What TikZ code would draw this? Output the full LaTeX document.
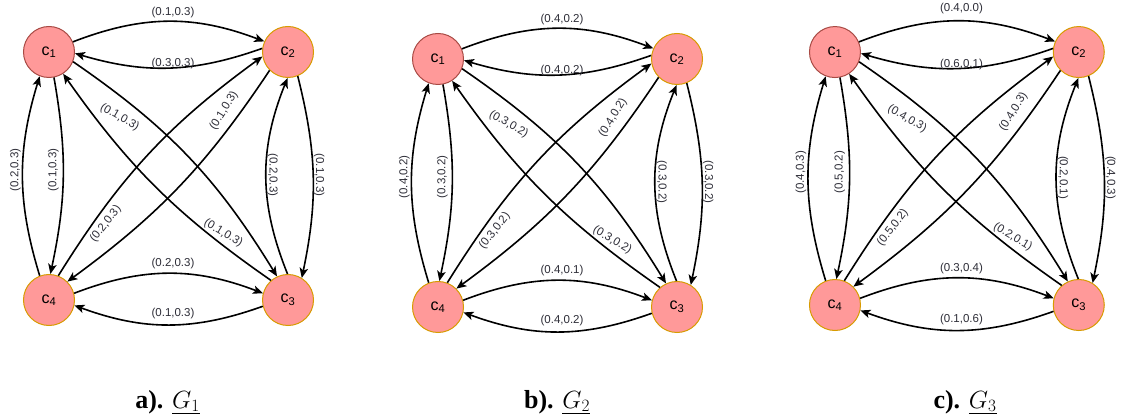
\documentclass[tikz,border=0pt]{standalone}
\usepackage{fontspec}
\setmainfont{Liberation Serif}
\setsansfont{Liberation Sans}
\usepackage{tikz}
\usetikzlibrary{arrows.meta}
\definecolor{nodefill}{HTML}{FF9999}
\definecolor{redline}{HTML}{A84A44}
\definecolor{goldline}{HTML}{D79B00}
\definecolor{weighttext}{HTML}{2E2E38}

% the twelve directed edges between c1, c2, c3 and c4
\newcommand{\graphedges}{%
  % top pair
  \draw[arrowedge] (c1.23)  to[bend left=21] (c2.156);
  \draw[arrowedge] (c2.172) to[bend left=18] (c1.357);
  % left pair
  \draw[arrowedge] (c4.111) to[bend left=17] (c1.249);
  \draw[arrowedge] (c1.281) to[bend left=11] (c4.87);
  % right pair
  \draw[arrowedge] (c2.292) to[bend left=13] (c3.58);
  \draw[arrowedge] (c3.91)  to[bend left=22] (c2.269);
  % bottom pair
  \draw[arrowedge] (c4.15)  to[bend left=21] (c3.165);
  \draw[arrowedge] (c3.194) to[bend left=20] (c4.348);
  % the crossing diagonals
  \draw[arrowedge] (c1.338) to[bend left=12] (c3.115);
  \draw[arrowedge] (c3.131) to[bend left=10] (c1.303);
  \draw[arrowedge] (c4.69)  to[bend left=11] (c2.190);
  \draw[arrowedge] (c2.225) to[bend left=10] (c4.45);
}

\begin{document}
\begin{tikzpicture}[
x=1pt, y=1pt,
    vertex/.style={
        circle,
        draw=goldline,
        fill=nodefill,
        line width=1pt,
        minimum size=51pt,
        inner sep=0pt,
        font=\sffamily\fontsize{16}{18}\selectfont
    },
    firstvertex/.style={vertex, draw=redline},
    arrowedge/.style={-{Stealth[length=10pt,width=8.5pt,inset=2.5pt]}, line width=1.6pt},
    weight/.style={font=\sffamily\fontsize{11.5}{13}\selectfont, text=weighttext, inner sep=0pt},
    subcap/.style={font=\fontsize{26}{30}\selectfont, anchor=base}
]
\useasboundingbox[fill=white] (0,0) rectangle (1121,-419);

% G_1
\begin{scope}[name prefix=a-]
\node[firstvertex] (c1) at (49,-52)  {c\textsubscript{1}};
\node[vertex]      (c2) at (288,-52) {c\textsubscript{2}};
\node[vertex]      (c3) at (288,-300) {c\textsubscript{3}};
\node[vertex]      (c4) at (49,-300) {c\textsubscript{4}};
\graphedges
\node[weight] (w12) at (173,-12.5) {(0.1,0.3)};
\node[weight] (w21) at (173,-64) {(0.3,0.3)};
\node[weight, rotate=90] (w41) at (15.5,-170) {(0.2,0.3)};
\node[weight, rotate=90] (w14) at (53.5,-170) {(0.1,0.3)};
\node[weight, rotate=-90] (w32) at (272.5,-175) {(0.2,0.3)};
\node[weight, rotate=-90] (w23) at (319,-175) {(0.1,0.3)};
\node[weight] (w43) at (173,-264) {(0.2,0.3)};
\node[weight] (w34) at (173,-314) {(0.1,0.3)};
\node[weight, rotate=-30] (w13) at (119.7,-117.3) {(0.1,0.3)};
\node[weight, rotate=58]  (w42) at (224,-110.7) {(0.1,0.3)};
\node[weight, rotate=52]  (w24) at (105.7,-224) {(0.2,0.3)};
\node[weight, rotate=-31] (w31) at (223.3,-233.3) {(0.1,0.3)};
\end{scope}

% G_2
\begin{scope}[shift={(389,-7)}, name prefix=b-]
\node[firstvertex] (c1) at (49,-52)  {c\textsubscript{1}};
\node[vertex]      (c2) at (288,-52) {c\textsubscript{2}};
\node[vertex]      (c3) at (288,-300) {c\textsubscript{3}};
\node[vertex]      (c4) at (49,-300) {c\textsubscript{4}};
\graphedges
\node[weight] (w12) at (173,-12.5) {(0.4,0.2)};
\node[weight] (w21) at (173,-64) {(0.4,0.2)};
\node[weight, rotate=90] (w41) at (15.5,-170) {(0.4,0.2)};
\node[weight, rotate=90] (w14) at (53.5,-170) {(0.3,0.2)};
\node[weight, rotate=-90] (w32) at (272.5,-175) {(0.3,0.2)};
\node[weight, rotate=-90] (w23) at (319,-175) {(0.3,0.2)};
\node[weight] (w43) at (173,-264) {(0.4,0.1)};
\node[weight] (w34) at (173,-314) {(0.4,0.2)};
\node[weight, rotate=-30] (w13) at (119.7,-117.3) {(0.3,0.2)};
\node[weight, rotate=58]  (w42) at (224,-110.7) {(0.4,0.2)};
\node[weight, rotate=52]  (w24) at (105.7,-224) {(0.3,0.2)};
\node[weight, rotate=-31] (w31) at (223.3,-233.3) {(0.3,0.2)};
\end{scope}

% G_3
\begin{scope}[shift={(785,1)}, scale=1.02, name prefix=c-]
\node[firstvertex] (c1) at (49,-52)  {c\textsubscript{1}};
\node[vertex]      (c2) at (288,-52) {c\textsubscript{2}};
\node[vertex]      (c3) at (288,-300) {c\textsubscript{3}};
\node[vertex]      (c4) at (49,-300) {c\textsubscript{4}};
\graphedges
\node[weight] (w12) at (173,-9) {(0.4,0.0)};
\node[weight] (w21) at (173,-64) {(0.6,0.1)};
\node[weight, rotate=90] (w41) at (15.5,-170) {(0.4,0.3)};
\node[weight, rotate=90] (w14) at (53.5,-170) {(0.5,0.2)};
\node[weight, rotate=-90] (w32) at (272.5,-175) {(0.2,0.1)};
\node[weight, rotate=-90] (w23) at (319,-175) {(0.4,0.3)};
\node[weight] (w43) at (173,-264) {(0.3,0.4)};
\node[weight] (w34) at (173,-314) {(0.1,0.6)};
\node[weight, rotate=-30] (w13) at (119.7,-117.3) {(0.4,0.3)};
\node[weight, rotate=58]  (w42) at (224,-110.7) {(0.4,0.3)};
\node[weight, rotate=52]  (w24) at (105.7,-224) {(0.5,0.2)};
\node[weight, rotate=-31] (w31) at (223.3,-233.3) {(0.2,0.1)};
\end{scope}

% sub-captions
\node[subcap] (capa) at (167.5,-408) {\textbf{a).} \underline{$G_1$}};
\node[subcap] (capb) at (557,-408)   {\textbf{b).} \underline{$G_2$}};
\node[subcap] (capc) at (965,-408)   {\textbf{c).} \underline{$G_3$}};
\end{tikzpicture}
\end{document}
